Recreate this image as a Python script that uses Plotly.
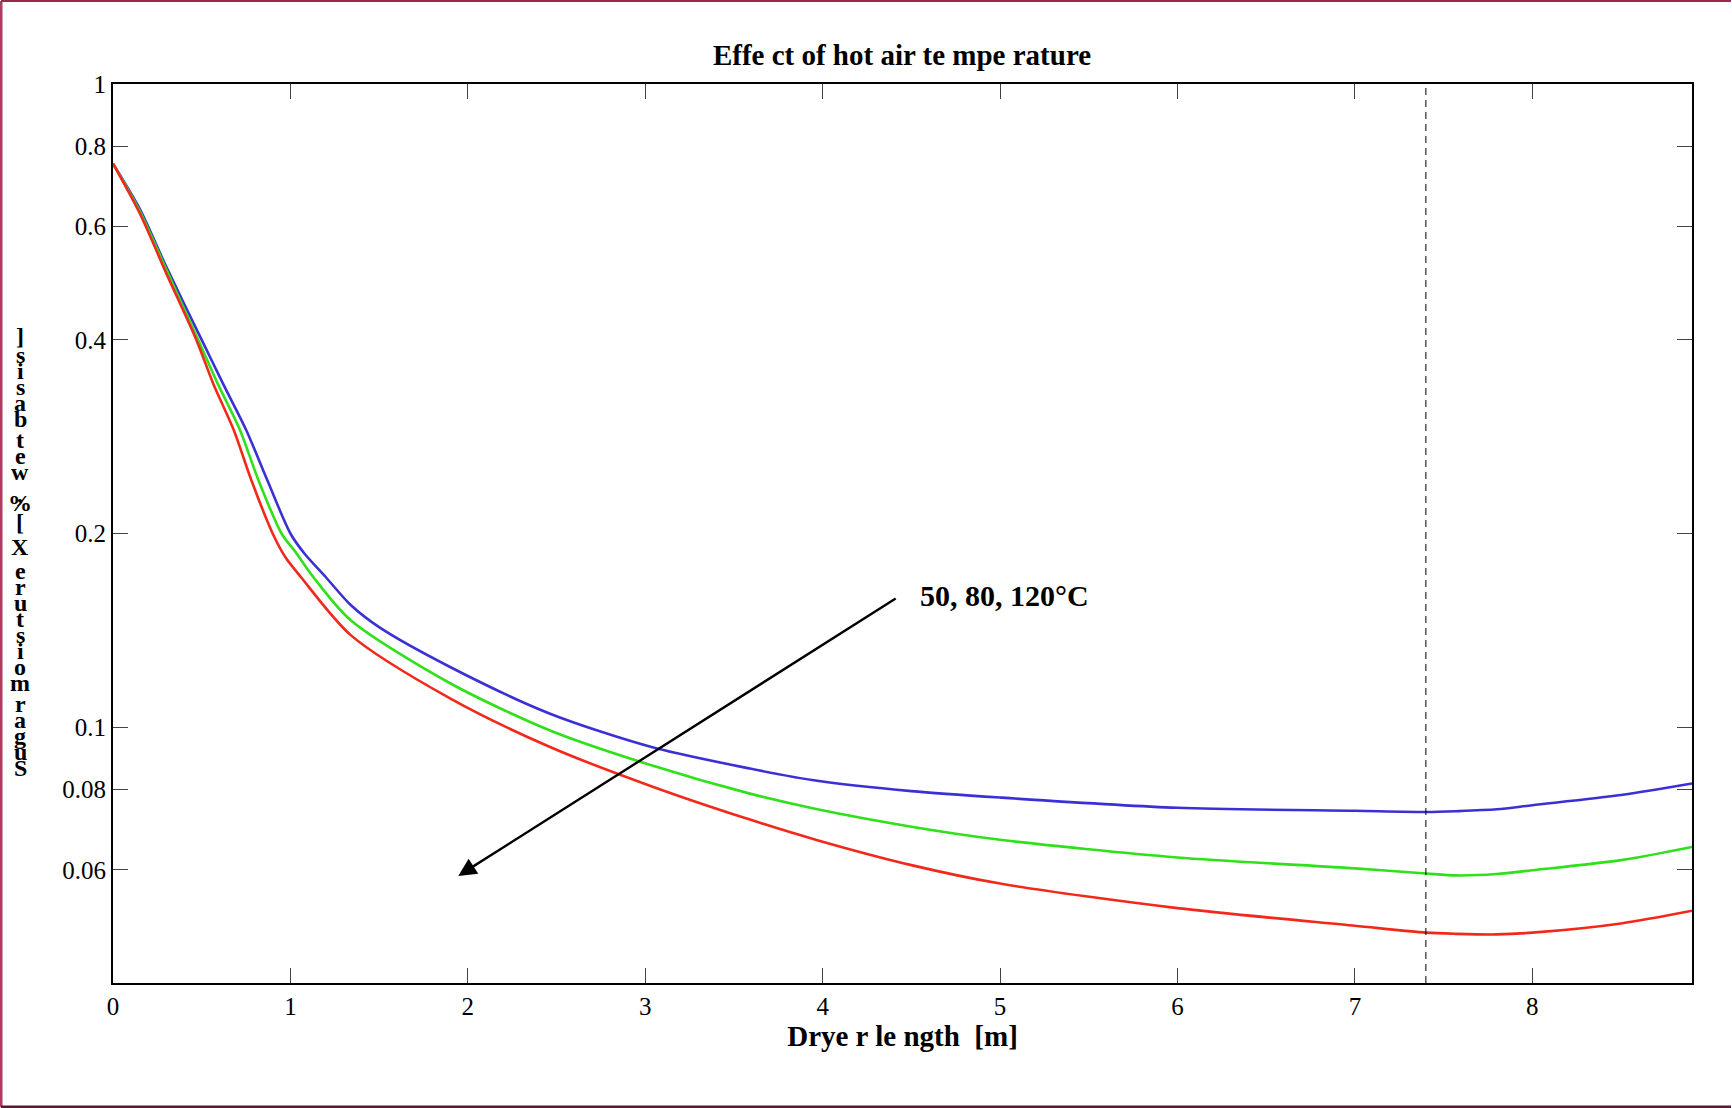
import numpy as np
import plotly.graph_objects as go

# ---------------- data ----------------
x_blue = [0, 0.15, 0.30, 0.50, 0.62, 0.75, 0.87, 1.00, 1.08, 1.20, 1.34, 1.50, 1.90, 2.46, 3.03, 3.59, 3.97, 4.5, 5.0, 6.0, 7.0, 7.4, 7.57, 7.8, 8.0, 8.5, 8.9]
y_blue = [0.752, 0.64, 0.52, 0.40, 0.342, 0.29, 0.242, 0.20, 0.186, 0.171, 0.1548, 0.143, 0.124, 0.105, 0.0932, 0.0862, 0.0825, 0.0795, 0.0777, 0.0749, 0.0741, 0.0738, 0.0740, 0.0745, 0.0756, 0.0784, 0.0817]

x_green = [0, 0.15, 0.30, 0.48, 0.59, 0.715, 0.82, 0.95, 1.03, 1.13, 1.34, 1.90, 2.46, 3.03, 3.59, 3.97, 4.5, 5.0, 6.0, 7.0, 7.4, 7.57, 7.8, 8.0, 8.5, 8.9]
y_green = [0.752, 0.635, 0.515, 0.40, 0.342, 0.29, 0.242, 0.20, 0.187, 0.171, 0.1466, 0.117, 0.0989, 0.0873, 0.0788, 0.0745, 0.0700, 0.0668, 0.0627, 0.0603, 0.0592, 0.0588, 0.0591, 0.0599, 0.0621, 0.0651]

x_red = [0, 0.15, 0.30, 0.47, 0.565, 0.68, 0.78, 0.90, 0.97, 1.06, 1.34, 1.90, 2.46, 3.03, 3.59, 3.97, 4.5, 5.0, 6.0, 7.0, 7.4, 7.57, 7.8, 8.0, 8.5, 8.9]
y_red = [0.752, 0.63, 0.508, 0.40, 0.342, 0.29, 0.242, 0.20, 0.184, 0.171, 0.139, 0.1108, 0.0932, 0.081, 0.0718, 0.0667, 0.0610, 0.0571, 0.0523, 0.0491, 0.0479, 0.0477, 0.0476, 0.0479, 0.0495, 0.0518]

series_names = ["50°C", "80°C", "120°C"]
series_colors = ["#3a30d4", "#2fe01a", "#f2281a"]

x_ticks = [0, 1, 2, 3, 4, 5, 6, 7, 8]
y_ticks = [0.06, 0.08, 0.1, 0.2, 0.4, 0.6, 0.8, 1]
y_tick_labels = ["0.06", "0.08", "0.1", "0.2", "0.4", "0.6", "0.8", "1"]

dryer_end = 7.4
arrow_head = (1.946, 0.0587)
arrow_tail = (4.42, 0.159)
arrow_label = "50, 80, 120°C"

title_text = "Effe ct of hot air te mpe rature"
x_title = "Drye r le ngth  [m]"
y_title = "Sugar moisture X [%, wet basis]"

# ---------------- layout geometry ----------------
W, H = 1732, 1108
ML, MR, MT, MB = 113, 40, 84, 125
PW, PH = W - ML - MR, H - MT - MB
X_RANGE = [0, 8.9]
Y_RANGE = [np.log10(0.04), 0]
FONT = "Liberation Serif, Times New Roman, serif"


def px_to_paper_x(px):
    return (px - ML) / PW


def px_to_paper_y(py):
    return (H - MB - py) / PH


fig = go.Figure()
for xs, ys, name, col in zip([x_blue, x_green, x_red], [y_blue, y_green, y_red], series_names, series_colors):
    fig.add_trace(go.Scatter(x=xs, y=ys, mode="lines", name=name,
                             line=dict(color=col, width=2.6, shape="spline", smoothing=0.8)))

axis_common = dict(showline=True, linecolor="black", linewidth=2, mirror="ticks",
                   ticks="inside", ticklen=15, tickwidth=1.2, tickcolor="#444",
                   showgrid=False, zeroline=False,
                   tickfont=dict(family=FONT, size=25, color="black"))

fig.update_layout(
    width=W, height=H,
    margin=dict(l=ML, r=MR, t=MT, b=MB),
    paper_bgcolor="white", plot_bgcolor="white",
    showlegend=False,
    title=dict(text=f"<b>{title_text}</b>", x=px_to_paper_x(902), xref="paper",
               y=1 - 55 / H, yref="container", xanchor="center", yanchor="middle",
               font=dict(family=FONT, size=29, color="black")),
    xaxis=dict(range=X_RANGE, tickvals=x_ticks, ticktext=[str(v) for v in x_ticks],
               title=dict(text=f"<b>{x_title}</b>", standoff=6,
                          font=dict(family=FONT, size=29, color="black")),
               **axis_common),
    yaxis=dict(type="log", range=Y_RANGE, tickvals=y_ticks, ticktext=y_tick_labels,
               **axis_common),
)

# dashed vertical line at the dryer end
fig.add_shape(type="line", xref="x", yref="paper", x0=dryer_end, x1=dryer_end, y0=0, y1=1,
              line=dict(color="black", width=1, dash="7px,5px"))

# arrow and its label
x_scale = PW / (X_RANGE[1] - X_RANGE[0])
y_scale = PH / (Y_RANGE[1] - Y_RANGE[0])
ax_off = (arrow_tail[0] - arrow_head[0]) * x_scale
ay_off = -(np.log10(arrow_tail[1]) - np.log10(arrow_head[1])) * y_scale
fig.add_annotation(x=arrow_head[0], y=np.log10(arrow_head[1]), xref="x", yref="y",
                   ax=ax_off, ay=ay_off, axref="pixel", ayref="pixel",
                   showarrow=True, arrowhead=2, arrowsize=1.5, arrowwidth=2.4,
                   arrowcolor="black", text="")
fig.add_annotation(x=arrow_tail[0] + 0.12, y=np.log10(arrow_tail[1]) + 0.004, xref="x", yref="y",
                   text=f"<b>{arrow_label}</b>", showarrow=False, xanchor="left", yanchor="middle",
                   font=dict(family=FONT, size=30, color="black"))

# stacked y-axis label (characters drawn upright, read bottom to top)
chars = list(y_title)


def char_weight(c):
    if c == " ":
        return 0.35
    if c in ",":
        return 0.6
    if c.isupper() or c in "%[]":
        return 1.2
    return 1.0


weights = [char_weight(c) for c in chars]
top_px, bottom_px = 336, 768
step = (bottom_px - top_px) / sum(weights[1:])
pos = bottom_px
for i, c in enumerate(chars):
    if i > 0:
        pos -= step * weights[i]
    if c == " ":
        continue
    fig.add_annotation(x=px_to_paper_x(20), y=px_to_paper_y(pos), xref="paper", yref="paper",
                       text=f"<b>{c}</b>", showarrow=False, xanchor="center", yanchor="middle",
                       font=dict(family=FONT, size=24, color="black"))

# picture frame border
x0p, x1p = px_to_paper_x(1), px_to_paper_x(W - 1)
y0p, y1p = px_to_paper_y(H - 1), px_to_paper_y(1)
fig.add_shape(type="line", xref="paper", yref="paper", x0=x0p, x1=x0p, y0=y0p, y1=y1p,
              line=dict(color="#b03a60", width=3))
fig.add_shape(type="line", xref="paper", yref="paper", x0=x0p, x1=x1p, y0=y1p, y1=y1p,
              line=dict(color="#9a2a4c", width=2))
fig.add_shape(type="line", xref="paper", yref="paper", x0=x0p, x1=x1p, y0=y0p, y1=y0p,
              line=dict(color="#5a1832", width=3))

fig.write_html("out.html")
